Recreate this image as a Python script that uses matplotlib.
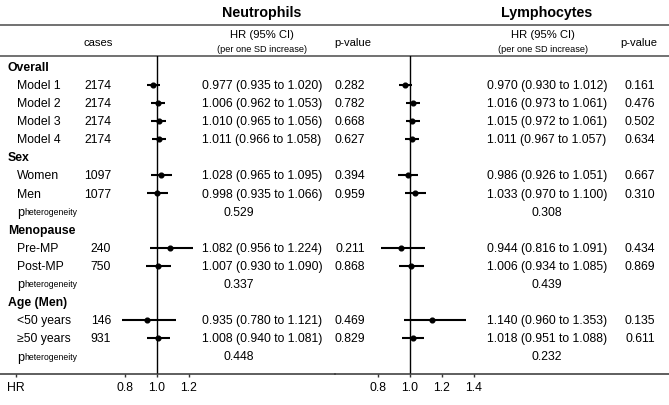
import matplotlib
matplotlib.use("Agg")
import matplotlib.pyplot as plt

plt.rcParams['font.family'] = ['Liberation Sans', 'DejaVu Sans']

# ---------------- data ----------------
row_labels = ["Overall", "Model 1", "Model 2", "Model 3", "Model 4",
              "Sex", "Women", "Men", "p_het",
              "Menopause", "Pre-MP", "Post-MP", "p_het",
              "Age (Men)", "<50 years", "\u226550 years", "p_het"]
row_kinds = ["head", "data", "data", "data", "data",
             "head", "data", "data", "phet",
             "head", "data", "data", "phet",
             "head", "data", "data", "phet"]

cases = [2174, 2174, 2174, 2174, 1097, 1077, 240, 750, 146, 931]

neut_hr = [0.977, 1.006, 1.010, 1.011, 1.028, 0.998, 1.082, 1.007, 0.935, 1.008]
neut_lo = [0.935, 0.962, 0.965, 0.966, 0.965, 0.935, 0.956, 0.930, 0.780, 0.940]
neut_hi = [1.020, 1.053, 1.056, 1.058, 1.095, 1.066, 1.224, 1.090, 1.121, 1.081]
neut_p = ["0.282", "0.782", "0.668", "0.627", "0.394", "0.959", "0.211", "0.868", "0.469", "0.829"]
neut_phet = ["0.529", "0.337", "0.448"]

lymph_hr = [0.970, 1.016, 1.015, 1.011, 0.986, 1.033, 0.944, 1.006, 1.140, 1.018]
lymph_lo = [0.930, 0.973, 0.972, 0.967, 0.926, 0.970, 0.816, 0.934, 0.960, 0.951]
lymph_hi = [1.012, 1.061, 1.061, 1.057, 1.051, 1.100, 1.091, 1.085, 1.353, 1.088]
lymph_p = ["0.161", "0.476", "0.502", "0.634", "0.667", "0.310", "0.434", "0.869", "0.135", "0.611"]
lymph_phet = ["0.308", "0.439", "0.232"]

neut_ticks = [0.8, 1.0, 1.2]
lymph_ticks = [0.8, 1.0, 1.2, 1.4]

# ---------------- layout ----------------
W, H = 669, 405
fig = plt.figure(figsize=(W / 100, H / 100), dpi=100)

bg = fig.add_axes([0, 0, 1, 1])
bg.set_xlim(0, W)
bg.set_ylim(H, 0)
bg.axis("off")

Y0, DY = 66.5, 18.1          # pixel y of first row, row spacing
TOP_LINE, HEAD_LINE, BOT_LINE = 25, 56, 374
PX_PER_UNIT = 160.0
NEUT_REF_X, LYMPH_REF_X = 157, 410

FS = 8.8
FS_HEAD = 8.1
FS_SMALL = 6.6
LINE_C = "#4a4a4a"


def row_y(i):
    return Y0 + i * DY


def txt(x, y, s, size=FS, ha="left", weight="normal"):
    # y = visual centre of capitals -> baseline
    bg.text(x, y + 0.716 * size * 100 / 72 / 2, s, fontsize=size, ha=ha,
            va="baseline", fontweight=weight, color="black")


# horizontal rules
bg.plot([0, W], [TOP_LINE, TOP_LINE], color=LINE_C, lw=1.1)
bg.plot([0, W], [HEAD_LINE, HEAD_LINE], color=LINE_C, lw=1.1)

# titles / headers
txt(262, 12.3, "Neutrophils", size=10.3, ha="center", weight="bold")
txt(547, 12.3, "Lymphocytes", size=10.3, ha="center", weight="bold")
txt(98, 41.7, "cases", size=FS_HEAD, ha="center")
txt(262, 34.3, "HR (95% CI)", size=FS_HEAD, ha="center")
txt(262, 48.3, "(per one SD increase)", size=FS_SMALL, ha="center")
txt(353, 41.7, "p-value", size=FS_HEAD, ha="center")
txt(543, 34.3, "HR (95% CI)", size=FS_HEAD, ha="center")
txt(543, 48.3, "(per one SD increase)", size=FS_SMALL, ha="center")
txt(639, 41.7, "p-value", size=FS_HEAD, ha="center")

# table text
di = 0
pi = 0
data_rows = []
for i, (lab, kind) in enumerate(zip(row_labels, row_kinds)):
    y = row_y(i)
    if kind == "head":
        txt(8, y, lab, weight="bold")
    elif kind == "phet":
        txt(17, y, "p", size=9.2)
        txt(24.5, y + 0.6, "heterogeneity", size=6.2)
        txt(239, y, neut_phet[pi], ha="center")
        txt(547, y, lymph_phet[pi], ha="center")
        pi += 1
    else:
        data_rows.append(i)
        txt(17, y, lab)
        txt(111, y, str(cases[di]), ha="right")
        txt(262, y, f"{neut_hr[di]:.3f} ({neut_lo[di]:.3f} to {neut_hi[di]:.3f})", ha="center")
        txt(350, y, neut_p[di], ha="center")
        txt(547, y, f"{lymph_hr[di]:.3f} ({lymph_lo[di]:.3f} to {lymph_hi[di]:.3f})", ha="center")
        txt(640, y, lymph_p[di], ha="center")
        di += 1

# ---------------- forest axes ----------------
y_top = (HEAD_LINE - Y0) / DY
y_bot = (BOT_LINE - Y0) / DY


def forest(px_left, px_right, ref_x, hr, lo, hi, ticks, extra_tick=None):
    ax = fig.add_axes([px_left / W, 1 - BOT_LINE / H,
                       (px_right - px_left) / W, (BOT_LINE - HEAD_LINE) / H])
    ax.patch.set_alpha(0)
    ax.set_xlim(1 + (px_left - ref_x) / PX_PER_UNIT, 1 + (px_right - ref_x) / PX_PER_UNIT)
    ax.set_ylim(y_bot, y_top)
    for s in ("top", "left", "right"):
        ax.spines[s].set_visible(False)
    ax.spines["bottom"].set_color("#333333")
    ax.spines["bottom"].set_linewidth(1.1)
    ax.set_yticks([])
    tk = list(ticks)
    tl = [f"{t:.1f}" for t in ticks]
    if extra_tick is not None:
        tk = [extra_tick[0]] + tk
        tl = [extra_tick[1]] + tl
    ax.set_xticks(tk)
    ax.set_xticklabels(tl)
    ax.tick_params(axis="x", direction="out", length=2.5, width=1.0,
                   color="#333333", labelsize=FS, pad=3.2)
    ax.axvline(1.0, color="black", lw=1.0, zorder=1)
    ax.hlines(data_rows, lo, hi, color="black", lw=1.5, zorder=2)
    ax.plot(hr, data_rows, "o", color="black", ms=3.4, zorder=3)
    return ax


forest(0, 335, NEUT_REF_X, neut_hr, neut_lo, neut_hi, neut_ticks,
       extra_tick=(1 + (16 - NEUT_REF_X) / PX_PER_UNIT, "HR"))
forest(335, W, LYMPH_REF_X, lymph_hr, lymph_lo, lymph_hi, lymph_ticks)

fig.savefig("out.png", dpi=100)
